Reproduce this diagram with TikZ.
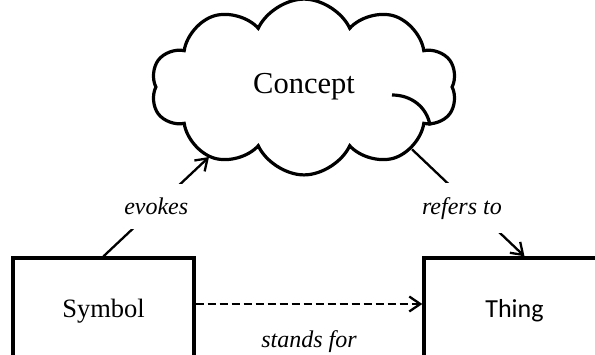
\documentclass[tikz,border=0pt]{standalone}
\usepackage{fontspec}
\setmainfont{Liberation Serif}
\newfontfamily\thingfont{Carlito}
\usetikzlibrary{arrows.meta,shapes.symbols}

\begin{document}
\begin{tikzpicture}
  [ x=1pt, y=-1pt,
    element/.style={
      rectangle,
      draw,
      line width=3.4pt,
      minimum width=181pt,
      minimum height=106pt,
      font=\fontsize{26.5}{30}\selectfont},
    idea/.style={
      cloud,
      draw,
      line width=3.2pt,
      cloud puffs=10,
      cloud puff arc=130,
      minimum width=306pt,
      minimum height=148pt,
      font=\fontsize{30.5}{34}\selectfont},
    line/.style={
      draw,
      line width=2.3pt,
      -{Straight Barb[length=11pt,width=15pt]},
    },
    tag/.style={
      fill=white,
      inner ysep=14pt,
      font=\fontsize{24}{28}\selectfont\itshape},
  ]

  \clip (0,0) rectangle (595,354);

  \node (concept) [idea] at (304,87) {Concept};
  \node (symbol) [element] at (103.5,311) {Symbol};
  \node (thing) [element, font=\fontsize{26}{30}\selectfont\thingfont] at (514.5,311) {Thing};

  % fold inside the cloud
  \draw[line width=3.2pt] ([xshift=88pt,yshift=-8pt]concept.center) to[out=0,in=100] (concept.343);

  \draw[line] (symbol.north) -- node [tag] {evokes} ([xshift=-95pt,yshift=-70pt]concept.center);
  \draw[line] (concept.330) -- node [tag, pos=.55, xshift=-12pt] {refers to} ([xshift=10pt]thing.north);
  \draw[line, dash pattern=on 8pt off 4pt] ([yshift=7pt]symbol.east) -- node [tag, fill=none, inner ysep=1pt, below=24pt] {stands for} ([yshift=7pt]thing.west);
\end{tikzpicture}
\end{document}
